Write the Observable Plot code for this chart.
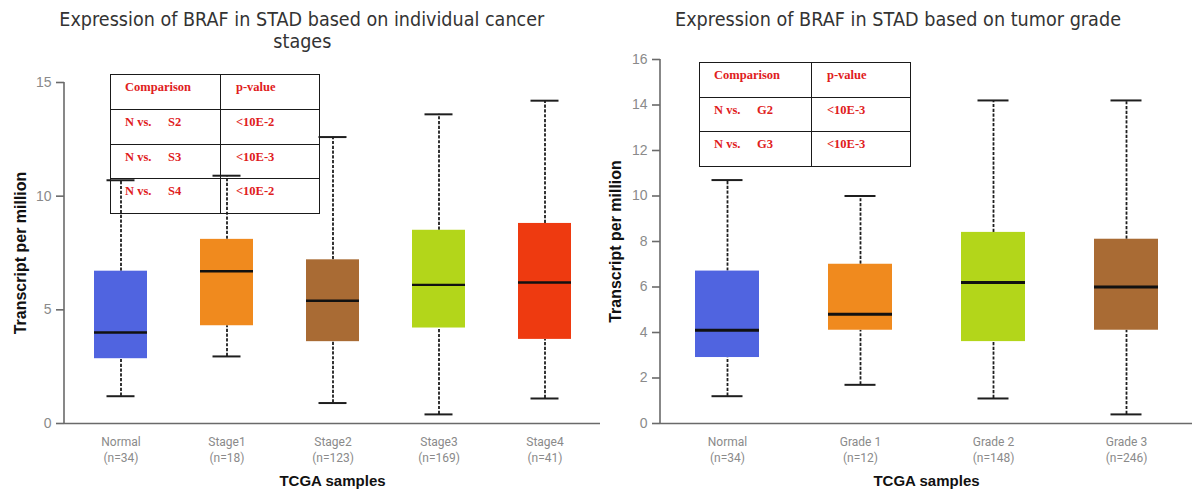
<!DOCTYPE html>
<html>
<head>
<meta charset="utf-8">
<script src="https://cdn.jsdelivr.net/npm/d3@7"></script>
<script src="https://cdn.jsdelivr.net/npm/@observablehq/plot@0.6"></script>
<style>
  body { margin: 0; background: #fff; }
  #wrap { position: relative; width: 1192px; height: 494px; overflow: hidden; }
  .panel { position: absolute; top: 0; }
  .title { position: absolute; width: 800px; text-align: center; white-space: nowrap;
           font-family: "DejaVu Sans"; font-size: 19px; line-height: 22px; color: #333; }
  .title span { display: inline-block; transform-origin: center; }
  table.cmp { position: absolute; border-collapse: collapse; table-layout: fixed;
              font-family: "Liberation Serif"; font-weight: bold; font-size: 12.5px; color: #e0201c; }
  table.cmp td { border: 1.3px solid #1a1a1a; vertical-align: top; padding: 5px 0 0 14px;
                 line-height: 14px; white-space: nowrap; box-sizing: border-box; }
  table.cmp td.p { padding-left: 15px; }
  table.cmp span.nv { display: inline-block; width: 43px; }
</style>
</head>
<body>
<div id="wrap"></div>
<script>
// ---------- data: left panel (cancer stages) ----------
const stageTitle = ["Expression of BRAF in STAD based on individual cancer", "stages"];
const stageCats = ["Normal", "Stage1", "Stage2", "Stage3", "Stage4"];
const stageN = [34, 18, 123, 169, 41];
const stageLow = [1.2, 2.95, 0.9, 0.4, 1.1];
const stageQ1 = [2.85, 4.3, 3.6, 4.2, 3.7];
const stageMed = [4.0, 6.7, 5.4, 6.1, 6.2];
const stageQ3 = [6.7, 8.1, 7.2, 8.5, 8.8];
const stageHigh = [10.7, 10.9, 12.6, 13.6, 14.2];
const stageColors = ["#5064e0", "#f08a1e", "#a96b34", "#b3d61a", "#ee3a10"];
const stageYTicks = [0, 5, 10, 15];
const stageCmpA = ["N vs.", "N vs.", "N vs."];
const stageCmpB = ["S2", "S3", "S4"];
const stageP = ["<10E-2", "<10E-3", "<10E-2"];

// ---------- data: right panel (tumor grade) ----------
const gradeTitle = ["Expression of BRAF in STAD based on tumor grade"];
const gradeCats = ["Normal", "Grade 1", "Grade 2", "Grade 3"];
const gradeN = [34, 12, 148, 246];
const gradeLow = [1.2, 1.7, 1.1, 0.4];
const gradeQ1 = [2.9, 4.1, 3.6, 4.1];
const gradeMed = [4.1, 4.8, 6.2, 6.0];
const gradeQ3 = [6.7, 7.0, 8.4, 8.1];
const gradeHigh = [10.7, 10.0, 14.2, 14.2];
const gradeColors = ["#5064e0", "#f08a1e", "#b3d61a", "#a96b34"];
const gradeYTicks = [0, 2, 4, 6, 8, 10, 12, 14, 16];
const gradeCmpA = ["N vs.", "N vs."];
const gradeCmpB = ["G2", "G3"];
const gradeP = ["<10E-3", "<10E-3"];

const tableHeader = ["Comparison", "p-value"];
const xLabel = "TCGA samples";
const yLabel = "Transcript per million";

function boxPanel(o) {
  const rows = o.cats.map((c, i) => ({
    cat: c, low: o.low[i], q1: o.q1[i], med: o.med[i], q3: o.q3[i], high: o.high[i]
  }));
  const labelOf = new Map(o.cats.map((c, i) => [c, `${c}\n(n=${o.n[i]})`]));
  const yMax = o.yTicks[o.yTicks.length - 1];
  const axisLine = (index, scales, values, dims) =>
    d3.create("svg:line")
      .attr("x1", dims.marginLeft).attr("x2", dims.marginLeft)
      .attr("y1", scales.y(yMax)).attr("y2", scales.y(0))
      .attr("stroke", "#6a6a6a").attr("stroke-width", 1.6).node();
  const dash = {stroke: "#1e1e1e", strokeWidth: 1.8, strokeDasharray: "3.2,1.6"};
  const cap = {stroke: "#1e1e1e", strokeWidth: 2, insetLeft: o.capInset, insetRight: o.capInset};
  return Plot.plot({
    width: o.width, height: 494,
    marginLeft: o.marginLeft, marginRight: 0, marginTop: o.marginTop, marginBottom: 71,
    x: {domain: o.cats, paddingInner: o.paddingInner, paddingOuter: o.paddingOuter, axis: null},
    y: {domain: [0, yMax], axis: null},
    color: {domain: o.cats, range: o.colors},
    style: {background: "transparent", overflow: "visible"},
    marks: [
      Plot.ruleY([0], {stroke: "#6a6a6a", strokeWidth: 1.6}),
      axisLine,
      Plot.axisY({ticks: o.yTicks, tickSize: 8, tickPadding: 5, stroke: "#6a6a6a", strokeWidth: 1.6,
                  fill: "#8a8a8a", fontSize: 14, fontFamily: "Liberation Sans", label: null}),
      Plot.axisX({tickSize: 0, tickPadding: 11, tickFormat: c => labelOf.get(c),
                  fill: "#8a8a8a", fontSize: 12, fontFamily: "Roboto", lineHeight: 1.33, label: null}),
      Plot.ruleX(rows, {x: "cat", y1: "q3", y2: "high", ...dash}),
      Plot.ruleX(rows, {x: "cat", y1: "low", y2: "q1", ...dash}),
      Plot.tickY(rows, {x: "cat", y: "high", ...cap}),
      Plot.tickY(rows, {x: "cat", y: "low", ...cap}),
      Plot.barY(rows, {x: "cat", y1: "q1", y2: "q3", fill: "cat"}),
      Plot.tickY(rows, {x: "cat", y: "med", stroke: "#111", strokeWidth: o.medWidth}),
      Plot.text([xLabel], {frameAnchor: "bottom", dy: 62, textAnchor: "middle", fontFamily: "Liberation Sans",
                           fontWeight: "bold", fontSize: 15, fill: "#111"}),
      Plot.text([yLabel], {frameAnchor: "left", textAnchor: "middle", rotate: -90, dx: o.yLabelDx,
                           fontFamily: "Liberation Sans", fontWeight: "bold", fontSize: 16, fill: "#111"})
    ]
  });
}

function makeTable(left, top, width, height, col1, cmpA, cmpB, pvals) {
  const t = document.createElement("table");
  t.className = "cmp";
  Object.assign(t.style, {left: left + "px", top: top + "px", width: width + "px", height: height + "px"});
  const rowH = height / (cmpA.length + 1);
  const head = t.insertRow();
  head.style.height = rowH + "px";
  const h1 = head.insertCell(); h1.textContent = tableHeader[0]; h1.style.width = col1 + "px";
  const h2 = head.insertCell(); h2.textContent = tableHeader[1]; h2.className = "p";
  cmpA.forEach((a, i) => {
    const r = t.insertRow();
    r.style.height = rowH + "px";
    const c1 = r.insertCell();
    const s = document.createElement("span"); s.className = "nv"; s.textContent = a;
    c1.appendChild(s); c1.appendChild(document.createTextNode(cmpB[i]));
    const c2 = r.insertCell(); c2.textContent = pvals[i]; c2.className = "p";
  });
  return t;
}

function makeTitle(lines, cx, baseline0, targetWidth) {
  const els = lines.map((txt, i) => {
    const d = document.createElement("div");
    d.className = "title";
    d.style.left = (cx - 400) + "px";
    d.style.top = (baseline0 - 17.6 + i * 22) + "px";
    const s = document.createElement("span");
    s.textContent = txt;
    d.appendChild(s);
    wrap.appendChild(d);
    return s;
  });
  const w = els[0].getBoundingClientRect().width;
  const k = targetWidth / w;
  els.forEach(s => s.style.transform = `scaleX(${k})`);
}

const wrap = document.getElementById("wrap");

const left = boxPanel({
  cats: stageCats, n: stageN, low: stageLow, q1: stageQ1, med: stageMed, q3: stageQ3, high: stageHigh,
  colors: stageColors, yTicks: stageYTicks, width: 600, marginLeft: 64, marginTop: 82,
  paddingInner: 0.5, paddingOuter: 0.255, capInset: 12.5, medWidth: 2.4, yLabelDx: -44
});
left.classList.add("panel");
left.style.left = "0px";
wrap.appendChild(left);

const right = boxPanel({
  cats: gradeCats, n: gradeN, low: gradeLow, q1: gradeQ1, med: gradeMed, q3: gradeQ3, high: gradeHigh,
  colors: gradeColors, yTicks: gradeYTicks, width: 592, marginLeft: 60, marginTop: 59,
  paddingInner: 0.52, paddingOuter: 0.255, capInset: 16.5, medWidth: 3, yLabelDx: -45
});
right.classList.add("panel");
right.style.left = "600px";
wrap.appendChild(right);

wrap.appendChild(makeTable(110, 74, 210, 139, 110, stageCmpA, stageCmpB, stageP));
wrap.appendChild(makeTable(699, 62, 212, 104, 112, gradeCmpA, gradeCmpB, gradeP));

makeTitle(stageTitle, 302, 26, 485);
makeTitle(gradeTitle, 898, 26, 446);
</script>
</body>
</html>
